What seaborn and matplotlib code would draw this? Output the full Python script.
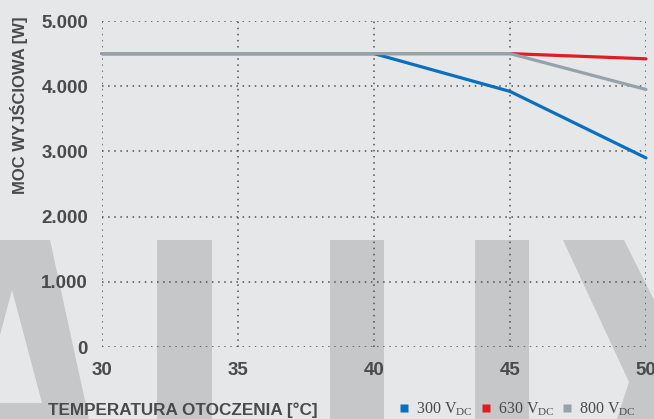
import matplotlib
matplotlib.use("Agg")
import matplotlib.pyplot as plt
import seaborn as sns
import pandas as pd
from matplotlib.patches import Polygon
from matplotlib.lines import Line2D

# ---- data ----
temperature = [30, 40, 45, 50]
p300 = [4500, 4500, 3920, 2900]
p630 = [4500, 4500, 4500, 4420]
p800 = [4500, 4500, 4500, 3950]
series_names = ["300", "630", "800"]
y_ticks = [0, 1000, 2000, 3000, 4000, 5000]
y_tick_labels = ["0", "1.000", "2.000", "3.000", "4.000", "5.000"]
x_ticks = [30, 35, 40, 45, 50]
x_label = "TEMPERATURA OTOCZENIA [°C]"
y_label = "MOC WYJŚCIOWA [W]"

colors = {"300": "#0a6fbf", "630": "#e31b23", "800": "#95a2aa"}
bg = "#e6e7e9"
wm = "#c6c7c9"
txt = "#4a4a4a"

df = pd.DataFrame({
    "temp": temperature * 3,
    "power": p300 + p630 + p800,
    "series": [s for s in series_names for _ in temperature],
})

sns.set_theme(style="white")
plt.rcParams["font.family"] = ["Liberation Sans", "DejaVu Sans"]

W, H = 654, 419
fig = plt.figure(figsize=(W / 100, H / 100), dpi=100)
fig.patch.set_facecolor(bg)

def P(pts):
    return [(x / W, 1 - y / H) for x, y in pts]

# background watermark
shapes = [
    [(0, 240), (50, 240), (89, 419), (0, 419)],
    [(157, 240), (212, 240), (212, 419), (157, 419)],
    [(330, 240), (384, 240), (384, 419), (330, 419)],
    [(475, 240), (529, 240), (529, 419), (475, 419)],
    [(563, 240), (624, 240), (654, 300), (654, 419), (617, 419), (629, 382)],
]
for s in shapes:
    fig.add_artist(Polygon(P(s), closed=True, transform=fig.transFigure,
                           facecolor=wm, edgecolor="none", zorder=-10))
fig.add_artist(Polygon(P([(12, 290), (42, 403), (0, 403), (0, 335)]), closed=True,
                       transform=fig.transFigure, facecolor=bg, edgecolor="none", zorder=-9))

ax = fig.add_axes([102 / W, 1 - 347 / H, (646 - 102) / W, (347 - 21) / H])
ax.set_facecolor("none")

sns.lineplot(data=df, x="temp", y="power", hue="series", palette=colors,
             hue_order=series_names, linewidth=2.3, ax=ax, legend=False,
             clip_on=False)

ax.set_xlim(30, 50)
ax.set_ylim(0, 5000)
ax.set_xticks(x_ticks)
ax.set_yticks(y_ticks)
ax.set_yticklabels(y_tick_labels)
for sp in ax.spines.values():
    sp.set_visible(False)
ax.grid(True, color="#4f4f4f", linestyle=(0, (1, 3)), linewidth=1.1)
ax.set_axisbelow(True)
ax.tick_params(axis="both", length=0, labelsize=13.5, labelcolor=txt)
ax.tick_params(axis="y", pad=10)
ax.tick_params(axis="x", pad=11)
for lab in ax.get_xticklabels() + ax.get_yticklabels():
    lab.set_fontweight("bold")
ax.set_xlabel("")
ax.set_ylabel("")

fig.text(48 / W, 1 - 410 / H, x_label, ha="left", va="center",
         fontsize=12.3, fontweight="bold", color=txt)
fig.text(19 / W, 1 - 105 / H, y_label, ha="center", va="center", rotation=90,
         fontsize=12, fontweight="bold", color=txt)

handles = [Line2D([], [], marker="s", linestyle="none", markersize=5.5,
                  markerfacecolor=colors[s], markeredgecolor="none") for s in series_names]
labels = [f"{s} V$_{{\\mathregular{{DC}}}}$" for s in series_names]
leg = fig.legend(handles, labels, loc="center right", bbox_to_anchor=(642 / W, 1 - 409 / H),
                 ncol=3, frameon=False, handlelength=0.6, handletextpad=0.45,
                 columnspacing=0.5, borderaxespad=0,
                 prop={"family": "Liberation Serif", "size": 11.5})
for t in leg.get_texts():
    t.set_color(txt)

fig.savefig("out.png", dpi=100, facecolor=bg)
